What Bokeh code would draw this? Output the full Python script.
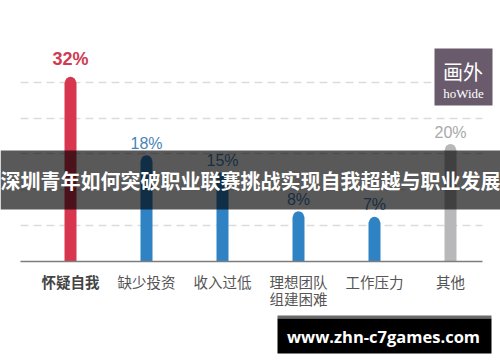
from bokeh.plotting import figure
from bokeh.models import (Range1d, Grid, SingleIntervalTicker, FixedTicker,
                          BoxAnnotation, Label, ColumnDataSource)
from bokeh.core.properties import value
from bokeh.embed import file_html
from bokeh.resources import INLINE

# ---- data ----
categories = ["怀疑自我", "缺少投资", "收入过低", "理想团队\n组建困难", "工作压力", "其他"]
percentages = [32, 18, 15, 8, 7, 20]
title_text = "深圳青年如何突破职业联赛挑战实现自我超越与职业发展"
banner_text = "www.zhn-c7games.com"
logo_cn = "画外"
logo_en = "hoWide"

# ---- styles ----
bar_colors = ["#d8364e", "#2f83c5", "#2f83c5", "#2f83c5", "#2f83c5", "#b8b8bb"]
label_colors = ["#d13a51", "#4a84b6", "#4a84b6", "#4a84b6", "#4a84b6", "#a9a9ab"]
label_sizes = ["18px", "16px", "16px", "16px", "16px", "16px"]
label_styles = ["bold", "normal", "normal", "normal", "normal", "normal"]
label_offsets = [-23.5, -17.5, -17.5, -17.5, -17.5, -17.5]
cat_colors = ["#444444", "#555555", "#555555", "#555555", "#555555", "#555555"]
cat_styles = ["bold", "normal", "normal", "normal", "normal", "normal"]

W, H = 500, 362
PX_X = 76.0   # px per category step
X0 = 70.0     # px of first category centre
PX_Y = 5.6    # px per percentage point
BASE = 261.0  # px of the baseline from the top


def dx(px):
    return (px - X0) / PX_X


def dy(py):
    return (BASE - py) / PX_Y


p = figure(width=W, height=H, output_backend="svg", toolbar_location=None,
           x_range=Range1d(dx(0), dx(W)), y_range=Range1d(dy(H), dy(0)),
           x_axis_type=None, y_axis_type=None, min_border=0,
           outline_line_color=None, background_fill_color="white",
           border_fill_color="white")

xs = list(range(len(categories)))
src = ColumnDataSource(dict(
    x=xs, top=percentages, color=bar_colors,
    label=[f"{v}%" for v in percentages], lcolor=label_colors,
    lsize=label_sizes, lstyle=label_styles, loff=label_offsets,
    cat=categories, ccolor=cat_colors, cstyle=cat_styles,
))

grid = Grid(dimension=1, ticker=SingleIntervalTicker(interval=6.4),
            bounds=(1, 33), cross_bounds=(dx(20), dx(482)),
            grid_line_color="#dcdcdc", grid_line_dash="8 5",
            grid_line_width=1.5)
p.add_layout(grid)

p.vbar(x="x", top="top", bottom=0, width=11 / PX_X, color="color", source=src)
p.scatter(x="x", y="top", size=11, marker="circle", color="color",
          line_color=None, source=src)

base = Grid(dimension=1, ticker=FixedTicker(ticks=[0]),
            cross_bounds=(dx(20), dx(482)), grid_line_color="#7d7d7d",
            grid_line_width=1.5, level="glyph")
p.add_layout(base)

p.text(x="x", y="top", text="label", text_color="lcolor",
       text_font=value("Liberation Sans"), text_font_size="lsize",
       text_font_style="lstyle", text_align="center",
       text_baseline="middle", y_offset="loff", source=src)

p.text(x="x", y=0, text="cat", text_color="ccolor",
       text_font=value("Noto Sans CJK SC"), text_font_size="14.5px",
       text_font_style="cstyle", text_align="center", text_baseline="top",
       y_offset=9, text_line_height=0.85, source=src)

# title band
p.add_layout(BoxAnnotation(bottom=dy(209), top=dy(150), fill_color="black",
                           fill_alpha=0.65, line_color=None))
p.add_layout(Label(x=dx(W / 2), y=dy(180), text=title_text,
                   text_align="center", text_baseline="middle",
                   text_color="white", text_font_size="20px",
                   text_font_style="bold", text_font="Noto Sans CJK SC"))

# logo
p.add_layout(BoxAnnotation(left=dx(434), right=dx(492), top=dy(48),
                           bottom=dy(105), fill_color="#695a6c",
                           fill_alpha=1, line_color=None))
p.add_layout(Label(x=dx(462.5), y=dy(71), text=logo_cn, text_align="center",
                   text_baseline="middle", text_color="white",
                   text_font_size="20px", text_font="Noto Sans CJK SC"))
p.add_layout(Label(x=dx(463), y=dy(92.5), text=logo_en, text_align="center",
                   text_baseline="middle", text_color="white",
                   text_font_size="13px", text_font="Liberation Serif"))

# bottom banner
p.add_layout(BoxAnnotation(left=dx(277), right=dx(491), top=dy(315),
                           bottom=dy(318), fill_color="#6a6a6a",
                           fill_alpha=1, line_color=None))
p.add_layout(BoxAnnotation(left=dx(277), right=dx(491), top=dy(318),
                           bottom=dy(353), fill_color="black",
                           fill_alpha=1, line_color=None))
p.add_layout(Label(x=dx(383), y=dy(336), text=banner_text,
                   text_align="center", text_baseline="middle",
                   text_color="white", text_font_size="16.5px",
                   text_font_style="bold", text_font="Open Sans"))

open("out.html", "w").write(file_html(p, INLINE))
